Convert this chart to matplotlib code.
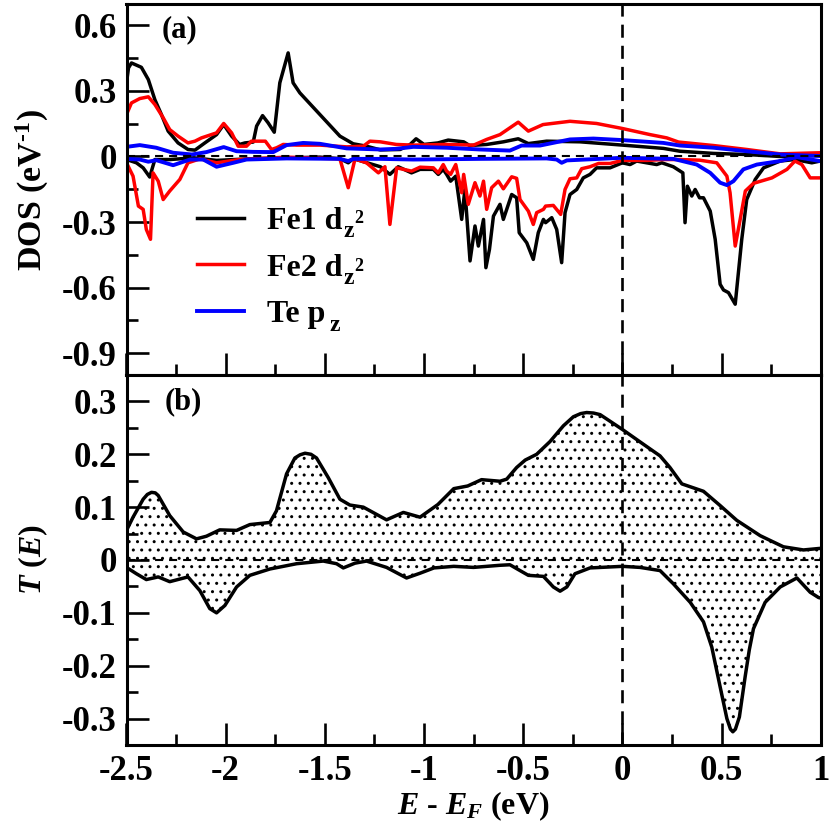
import numpy as np
import matplotlib
matplotlib.use("Agg")
import matplotlib.pyplot as plt
from matplotlib.ticker import FixedLocator, FixedFormatter

# Fe1 dz2, spin up
fe1_up_e = [-2.5,-2.49,-2.475,-2.425,-2.39,-2.357,-2.324,-2.29,-2.24,-2.19,-2.155,-2.105,-2.046,-2.01,-1.97,-1.93,-1.903,-1.861,-1.844,-1.814,-1.786,-1.755,-1.727,-1.685,-1.66,-1.626,-1.525,-1.424,-1.357,-1.29,-1.22,-1.12,-1.07,-1.04,-1.0,-0.93,-0.878,-0.80,-0.77,-0.684,-0.60,-0.525,-0.474,-0.382,-0.213,0,0.207,0.29,0.46,0.627,0.795,1.0]
fe1_up = [0.337,0.405,0.428,0.408,0.352,0.26,0.192,0.116,0.062,0.032,0.029,0.062,0.10,0.146,0.093,0.055,0.062,0.066,0.139,0.187,0.154,0.111,0.337,0.474,0.337,0.291,0.192,0.093,0.058,0.047,0.03,0.032,0.055,0.081,0.055,0.062,0.075,0.067,0.05,0.055,0.067,0.081,0.059,0.07,0.067,0.052,0.037,0.024,0.014,0.009,0.0,0.005]

# Fe1 dz2, spin down
fe1_dn_e = [-2.5,-2.45,-2.416,-2.383,-2.357,-2.28,-2.16,-2.046,-1.861,-1.525,-1.424,-1.382,-1.357,-1.22,-1.172,-1.13,-1.063,-1.02,-0.953,-0.928,-0.903,-0.886,-0.866,-0.84,-0.81,-0.794,-0.768,-0.743,-0.726,-0.70,-0.688,-0.67,-0.65,-0.617,-0.60,-0.558,-0.533,-0.52,-0.482,-0.449,-0.424,-0.398,-0.387,-0.356,-0.331,-0.306,-0.289,-0.264,-0.23,-0.197,-0.163,-0.13,-0.062,0,0.039,0.072,0.173,0.199,0.257,0.305,0.316,0.328,0.35,0.367,0.389,0.409,0.443,0.468,0.493,0.51,0.535,0.569,0.602,0.627,0.67,0.712,0.795,0.87,0.955,0.997]
fe1_dn = [-0.014,-0.029,-0.052,-0.094,-0.014,-0.014,-0.006,-0.018,-0.01,-0.003,-0.01,-0.029,-0.01,-0.047,-0.082,-0.047,-0.075,-0.059,-0.059,-0.082,-0.059,-0.082,-0.113,-0.09,-0.288,-0.151,-0.478,-0.318,-0.41,-0.288,-0.509,-0.425,-0.273,-0.219,-0.288,-0.174,-0.189,-0.349,-0.395,-0.471,-0.349,-0.288,-0.303,-0.28,-0.334,-0.486,-0.257,-0.174,-0.151,-0.098,-0.082,-0.052,-0.052,-0.029,-0.037,-0.021,-0.037,-0.029,-0.047,-0.075,-0.303,-0.136,-0.181,-0.151,-0.189,-0.189,-0.25,-0.379,-0.585,-0.611,-0.623,-0.676,-0.379,-0.197,-0.105,-0.052,-0.021,-0.014,-0.029,-0.021]

# Fe2 dz2, spin up
fe2_up_e = [-2.5,-2.475,-2.433,-2.39,-2.357,-2.315,-2.282,-2.24,-2.19,-2.155,-2.122,-2.046,-2.01,-1.97,-1.937,-1.895,-1.87,-1.80,-1.769,-1.743,-1.71,-1.643,-1.525,-1.39,-1.306,-1.273,-1.22,-1.14,-1.054,-0.886,-0.75,-0.684,-0.617,-0.525,-0.474,-0.40,-0.264,-0.13,0,0.14,0.224,0.283,0.46,0.627,0.795,0.997]
fe2_up = [0.192,0.245,0.265,0.273,0.238,0.177,0.123,0.093,0.062,0.07,0.085,0.108,0.151,0.108,0.047,0.047,0.07,0.07,0.032,0.04,0.055,0.052,0.052,0.044,0.047,0.07,0.067,0.055,0.052,0.055,0.052,0.078,0.10,0.157,0.116,0.146,0.161,0.151,0.128,0.10,0.085,0.066,0.05,0.032,0.012,0.017]

# Fe2 dz2, spin down
fe2_dn_e = [-2.5,-2.467,-2.44,-2.416,-2.4,-2.379,-2.366,-2.34,-2.315,-2.282,-2.231,-2.19,-2.13,-2.046,-1.93,-1.693,-1.424,-1.382,-1.348,-1.29,-1.23,-1.197,-1.172,-1.138,-1.063,-1.02,-0.953,-0.928,-0.903,-0.886,-0.866,-0.84,-0.81,-0.80,-0.777,-0.743,-0.718,-0.70,-0.684,-0.659,-0.625,-0.60,-0.558,-0.533,-0.516,-0.474,-0.449,-0.432,-0.398,-0.387,-0.348,-0.311,-0.289,-0.264,-0.23,-0.205,-0.163,-0.12,-0.062,0,0.126,0.21,0.29,0.39,0.476,0.527,0.543,0.569,0.594,0.62,0.661,0.754,0.83,0.87,0.905,0.947,0.997]
fe2_dn = [-0.029,-0.09,-0.227,-0.242,-0.334,-0.379,-0.075,-0.113,-0.197,-0.158,-0.105,-0.029,-0.011,-0.029,-0.014,-0.003,-0.011,-0.143,-0.011,-0.029,-0.075,-0.047,-0.311,-0.052,-0.067,-0.049,-0.052,-0.075,-0.037,-0.067,-0.082,-0.037,-0.166,-0.082,-0.219,-0.12,-0.181,-0.113,-0.242,-0.143,-0.113,-0.148,-0.093,-0.10,-0.197,-0.25,-0.311,-0.257,-0.242,-0.227,-0.224,-0.265,-0.151,-0.102,-0.098,-0.056,-0.047,-0.032,-0.032,-0.018,-0.018,-0.014,-0.014,-0.017,-0.029,-0.09,-0.166,-0.41,-0.288,-0.158,-0.123,-0.098,-0.059,-0.021,-0.037,-0.098,-0.098]

# Te pz, spin up
te_up_e = [-2.5,-2.433,-2.35,-2.265,-2.17,-2.097,-2.01,-1.945,-1.861,-1.76,-1.693,-1.609,-1.525,-1.39,-1.22,-1.14,-1.054,-0.886,-0.718,-0.567,-0.508,-0.415,-0.264,-0.146,0,0.207,0.29,0.46,0.627,0.795,1.0]
te_up = [0.044,0.052,0.04,0.017,0.009,0.02,0.043,0.024,0.021,0.02,0.052,0.062,0.058,0.037,0.032,0.035,0.044,0.04,0.032,0.027,0.05,0.05,0.078,0.082,0.075,0.062,0.05,0.04,0.024,0.009,0.002]

# Te pz, spin down
te_dn_e = [-2.5,-2.433,-2.39,-2.35,-2.265,-2.18,-2.113,-2.046,-1.962,-1.895,-1.693,-1.424,-1.382,-1.357,-1.22,-1.054,-0.718,-0.382,-0.331,-0.306,-0.28,0,0.257,0.375,0.443,0.493,0.527,0.56,0.61,0.678,0.795,0.88,0.997]
te_dn = [-0.011,-0.014,-0.024,-0.017,-0.04,-0.014,-0.014,-0.047,-0.029,-0.014,-0.009,-0.011,-0.021,-0.011,-0.011,-0.014,-0.011,-0.009,-0.014,-0.029,-0.018,-0.006,-0.011,-0.037,-0.075,-0.12,-0.131,-0.113,-0.059,-0.037,-0.021,-0.003,-0.021]

# transmission, spin up
t_up_e = [-2.5,-2.467,-2.416,-2.395,-2.374,-2.355,-2.34,-2.282,-2.214,-2.147,-2.097,-2.03,-1.945,-1.878,-1.777,-1.744,-1.693,-1.651,-1.625,-1.60,-1.57,-1.542,-1.483,-1.424,-1.374,-1.306,-1.189,-1.104,-1.02,-0.93,-0.85,-0.78,-0.71,-0.617,-0.583,-0.533,-0.49,-0.432,-0.365,-0.297,-0.247,-0.21,-0.18,-0.145,-0.112,0,0.106,0.19,0.24,0.30,0.409,0.493,0.577,0.695,0.812,0.913,0.997]
t_up = [0.056,0.081,0.115,0.124,0.128,0.127,0.122,0.084,0.053,0.04,0.045,0.057,0.056,0.067,0.071,0.093,0.163,0.193,0.199,0.202,0.2,0.193,0.156,0.115,0.104,0.10,0.076,0.09,0.081,0.105,0.135,0.14,0.152,0.149,0.153,0.175,0.189,0.20,0.224,0.254,0.271,0.277,0.279,0.278,0.275,0.247,0.219,0.197,0.175,0.144,0.13,0.103,0.075,0.046,0.025,0.019,0.022]

# transmission, spin down
t_dn_e = [-2.5,-2.45,-2.40,-2.34,-2.282,-2.19,-2.13,-2.08,-2.046,-2.004,-1.945,-1.878,-1.777,-1.642,-1.508,-1.441,-1.407,-1.348,-1.29,-1.189,-1.088,-1.02,-0.95,-0.85,-0.75,-0.617,-0.567,-0.516,-0.474,-0.398,-0.348,-0.314,-0.28,-0.239,-0.163,0,0.089,0.19,0.257,0.342,0.409,0.451,0.493,0.527,0.545,0.557,0.57,0.59,0.619,0.64,0.661,0.72,0.796,0.88,0.947,0.989,1.0]
t_dn = [-0.014,-0.026,-0.037,-0.032,-0.041,-0.032,-0.058,-0.092,-0.10,-0.086,-0.051,-0.029,-0.017,-0.007,-0.002,-0.007,-0.015,-0.006,-0.002,-0.014,-0.034,-0.025,-0.015,-0.012,-0.014,-0.01,-0.009,-0.02,-0.029,-0.031,-0.051,-0.059,-0.051,-0.026,-0.015,-0.012,-0.014,-0.02,-0.045,-0.08,-0.117,-0.165,-0.24,-0.30,-0.32,-0.325,-0.32,-0.297,-0.221,-0.17,-0.13,-0.08,-0.051,-0.034,-0.061,-0.071,-0.072]

x_ticks = [-2.5, -2, -1.5, -1, -0.5, 0, 0.5, 1]
x_labels = ["-2.5", "-2", "-1.5", "-1", "-0.5", "0", "0.5", "1"]
x_minor = [-2.25, -1.75, -1.25, -0.75, -0.25, 0.25, 0.75]
dos_ticks = [-0.9, -0.6, -0.3, 0, 0.3, 0.6]
dos_labels = ["-0.9", "-0.6", "-0.3", "0", "0.3", "0.6"]
dos_minor = [-0.75, -0.45, -0.15, 0.15, 0.45]
t_ticks = [-0.3, -0.2, -0.1, 0, 0.1, 0.2, 0.3]
t_labels = ["-0.3", "-0.2", "-0.1", "0", "0.1", "0.2", "0.3"]
t_minor = [-0.25, -0.15, -0.05, 0.05, 0.15, 0.25]

plt.rcParams["font.family"] = "Liberation Serif"
plt.rcParams["font.weight"] = "bold"
plt.rcParams["axes.labelweight"] = "bold"
plt.rcParams["mathtext.fontset"] = "custom"
plt.rcParams["mathtext.rm"] = "Liberation Serif:bold"
plt.rcParams["mathtext.it"] = "Liberation Serif:italic:bold"
plt.rcParams["mathtext.bf"] = "Liberation Serif:bold"
plt.rcParams["lines.scale_dashes"] = False
plt.rcParams["hatch.linewidth"] = 1.0

W = 830.0
left, right, top, mid, bottom = 126.5, 820.7, 3.5, 375.0, 745.0
FS = 25


def add_panel(y_top, y_bot):
    return fig.add_axes([left / W, 1 - y_bot / W, (right - left) / W, (y_bot - y_top) / W])


def style(ax, majors, labels, minors):
    ax.set_xlim(-2.5, 1)
    ax.xaxis.set_major_locator(FixedLocator(x_ticks))
    ax.xaxis.set_minor_locator(FixedLocator(x_minor))
    ax.yaxis.set_major_locator(FixedLocator(majors))
    ax.yaxis.set_major_formatter(FixedFormatter(labels))
    ax.yaxis.set_minor_locator(FixedLocator(minors))
    ax.tick_params(which="major", direction="in", length=16, width=1.9, labelsize=FS, pad=7)
    ax.tick_params(which="minor", direction="in", length=8, width=1.9)
    for s in ax.spines.values():
        s.set_linewidth(2.2)


def px_text(x, y, s, size, **kw):
    fig.text(x / W, 1 - y / W, s, fontsize=size, **kw)


fig = plt.figure(figsize=(8.3, 8.3), dpi=100)

# top panel: projected DOS
ax1 = add_panel(top, mid)
ax1.plot(fe1_up_e, fe1_up, color="black", lw=2.5)
ax1.plot(fe1_dn_e, fe1_dn, color="black", lw=2.5)
ax1.plot(fe2_up_e, fe2_up, color="red", lw=2.5)
ax1.plot(fe2_dn_e, fe2_dn, color="red", lw=2.5)
ax1.plot(te_up_e, te_up, color="blue", lw=2.8)
ax1.plot(te_dn_e, te_dn, color="blue", lw=2.8)
ax1.axhline(0, color="black", lw=1.5, ls=(0, (5.8, 4.3)))
ax1.axvline(0, color="black", lw=1.9, ls=(0, (9.4, 5.8)))
ax1.set_ylim(-1, 0.7)
style(ax1, dos_ticks, dos_labels, dos_minor)
ax1.tick_params(axis="x", labelbottom=False)
px_text(162, 30, "(a)", 22, va="center", ha="left")

# legend, the z and 2 are placed by hand since mathtext makes them too small
h1, = ax1.plot([], [], color="black", lw=2.5)
h2, = ax1.plot([], [], color="red", lw=2.5)
h3, = ax1.plot([], [], color="blue", lw=2.8)
ax1.legend([h1, h2, h3], ["Fe1 d", "Fe2 d", "Te p"], frameon=False,
           fontsize=23, loc="upper left", bbox_to_anchor=((197 - left) / (right - left), (mid - 207) / (mid - top)),
           handlelength=1.47, handletextpad=0.72, labelspacing=0.53, borderpad=0, borderaxespad=0)
px_text(343, 236.7, "z", 17, va="baseline", ha="left")
px_text(354, 223, "2", 13, va="baseline", ha="left")
px_text(343, 284, "z", 17, va="baseline", ha="left")
px_text(354, 270.7, "2", 13, va="baseline", ha="left")
px_text(329, 330.7, "z", 17, va="baseline", ha="left")

# bottom panel: transmission, stippled between the two spin channels
ax2 = add_panel(mid, bottom)
ax2.fill(np.r_[t_up_e, t_dn_e[::-1]], np.r_[t_up, t_dn[::-1]], facecolor="white",
         edgecolor="black", hatch="..", lw=0)
ax2.plot(t_up_e, t_up, color="black", lw=2.5)
ax2.plot(t_dn_e, t_dn, color="black", lw=2.5)
ax2.axhline(0, color="black", lw=1.5, ls=(0, (5.8, 4.3)))
ax2.axvline(0, color="black", lw=1.9, ls=(0, (9.4, 5.8)))
ax2.set_ylim(-0.35, 0.35)
style(ax2, t_ticks, t_labels, t_minor)
ax2.xaxis.set_major_formatter(FixedFormatter(x_labels))
px_text(165, 402, "(b)", 22, va="center", ha="left")

px_text(473, 806, r"$E$ - $E_F$ (eV)", 23, ha="center", va="center")
px_text(32, 190, "DOS (eV$^{\u20101}$)", 24.5, rotation=90, ha="center", va="center")
px_text(33, 560, r"$T$ ($E$)", 23, rotation=90, ha="center", va="center")

fig.savefig("out.png", dpi=100)
